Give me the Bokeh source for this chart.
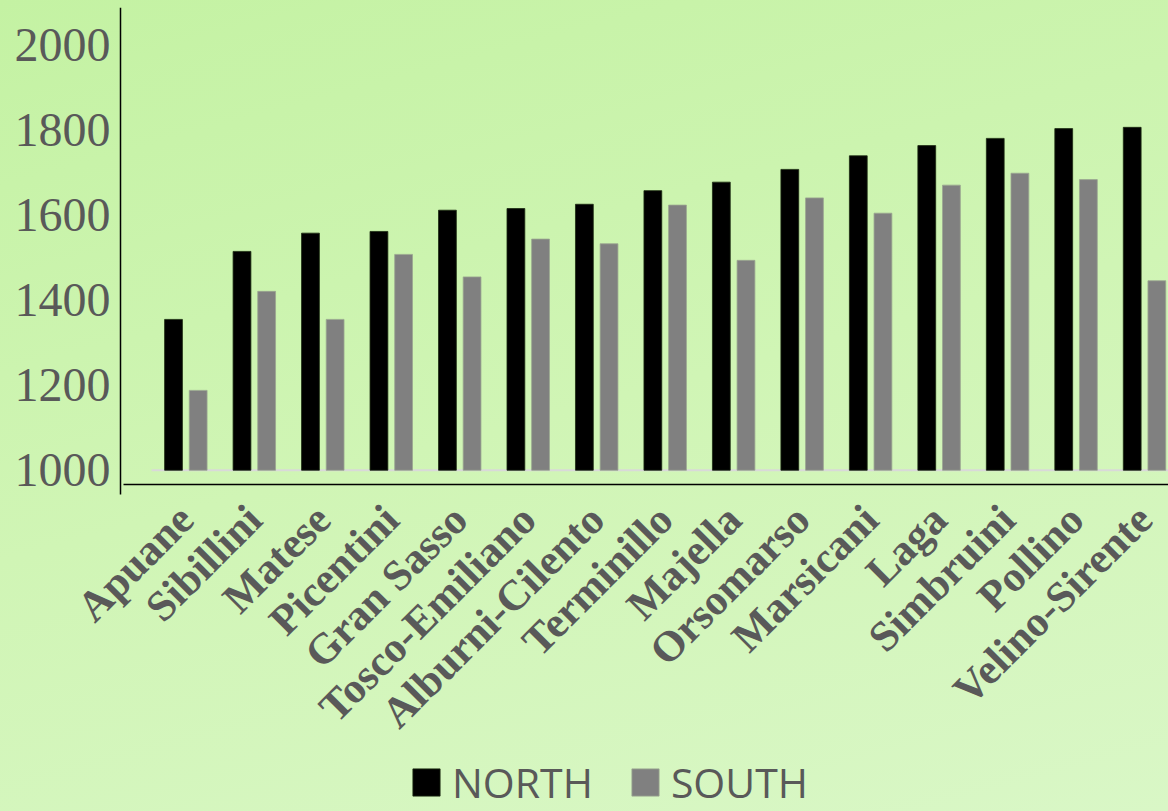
import numpy as np
from math import pi
from bokeh.plotting import figure
from bokeh.models import (ColumnDataSource, Range1d, FixedTicker, Legend, LegendItem)
from bokeh.embed import file_html
from bokeh.resources import INLINE

categories = ["Apuane", "Sibillini", "Matese", "Picentini", "Gran Sasso",
              "Tosco-Emiliano", "Alburni-Cilento", "Terminillo", "Majella",
              "Orsomarso", "Marsicani", "Laga", "Simbruini", "Pollino",
              "Velino-Sirente"]
north = [1355, 1515, 1558, 1562, 1612, 1616, 1626, 1658, 1678, 1708,
         1740, 1764, 1781, 1804, 1807]
south = [1188, 1421, 1355, 1508, 1455, 1544, 1533, 1624, 1494, 1641,
         1605, 1671, 1699, 1684, 1446]
series_names = ["NORTH", "SOUTH"]
y_ticks = [1000, 1200, 1400, 1600, 1800, 2000]
BASE = 1000

n = len(categories)
centers = np.arange(n) + 0.5
DODGE = 0.18
BAR_W = 0.26

# layout constants (data units of the two ranges)
X_START, X_END = -2.2065, 14.85
Y_START, Y_END = 197, 2089
YAXIS_AT = -0.454      # where the vertical axis stands
XAXIS_AT = 967         # where the horizontal axis stands
YAXIS_LOW = 944        # lower end of the vertical axis line

src = ColumnDataSource(dict(
    cat=categories,
    xn=centers - DODGE,
    xs=centers + DODGE,
    north=north,
    south=south,
))

p = figure(width=1168, height=811, output_backend="svg", toolbar_location=None,
           x_range=Range1d(X_START, X_END), y_range=Range1d(Y_START, Y_END),
           min_border_left=0, min_border_right=0, min_border_top=7,
           min_border_bottom=0)

p.styles = {"background-image": "linear-gradient(165deg, #c4f2a3 0%, #d0f5b5 50%, #d9f7c6 100%)"}
p.background_fill_alpha = 0
p.border_fill_alpha = 0
p.outline_line_color = None
p.xgrid.visible = False
p.ygrid.visible = False

# baseline at 1000
p.segment(x0=[0], x1=[n], y0=[BASE], y1=[BASE], line_color="#d9d9d9", line_width=2)

rn = p.vbar(x="xn", top="north", bottom=BASE, width=BAR_W, source=src,
            fill_color="#000000", line_color="#1a2a10", line_width=0.8)
rs = p.vbar(x="xs", top="south", bottom=BASE, width=BAR_W, source=src,
            fill_color="#808080", line_color="#9aa690", line_width=0.8)

# y axis
p.yaxis.fixed_location = YAXIS_AT
p.yaxis.ticker = FixedTicker(ticks=y_ticks)
p.yaxis.bounds = (YAXIS_LOW, Y_END)
p.yaxis.major_label_text_font = "Liberation Serif"
p.yaxis.major_label_text_font_size = "48px"
p.yaxis.major_label_text_color = "#595959"
p.yaxis.major_tick_line_color = None
p.yaxis.minor_tick_line_color = None
p.yaxis.axis_line_color = "#000000"
p.yaxis.axis_line_width = 1.5
p.yaxis.major_label_standoff = 4

# x axis
p.xaxis.fixed_location = XAXIS_AT
p.xaxis.bounds = (YAXIS_AT + 0.04, X_END)
p.xaxis.ticker = FixedTicker(ticks=list(centers))
p.xaxis.major_label_overrides = {float(c): name for c, name in zip(centers, categories)}
p.xaxis.major_label_orientation = pi / 4
p.xaxis.major_label_text_font = "Liberation Serif"
p.xaxis.major_label_text_font_style = "bold"
p.xaxis.major_label_text_font_size = "43px"
p.xaxis.major_label_text_color = "#595959"
p.xaxis.major_tick_line_color = None
p.xaxis.minor_tick_line_color = None
p.xaxis.axis_line_color = "#000000"
p.xaxis.axis_line_width = 1.5
p.xaxis.major_label_standoff = 22

legend = Legend(items=[LegendItem(label=series_names[0], renderers=[rn]),
                       LegendItem(label=series_names[1], renderers=[rs])],
                orientation="horizontal", location=(409, 1))
legend.label_text_font = "Open Sans"
legend.label_text_font_size = "41px"
legend.label_text_line_height = 1.0
legend.label_text_color = "#595959"
legend.glyph_width = 34
legend.glyph_height = 34
legend.label_standoff = 9
legend.spacing = 35
legend.padding = 0
legend.margin = 0
legend.background_fill_alpha = 0
legend.border_line_alpha = 0
p.add_layout(legend, "center")

open("out.html", "w").write(file_html(p, INLINE))
